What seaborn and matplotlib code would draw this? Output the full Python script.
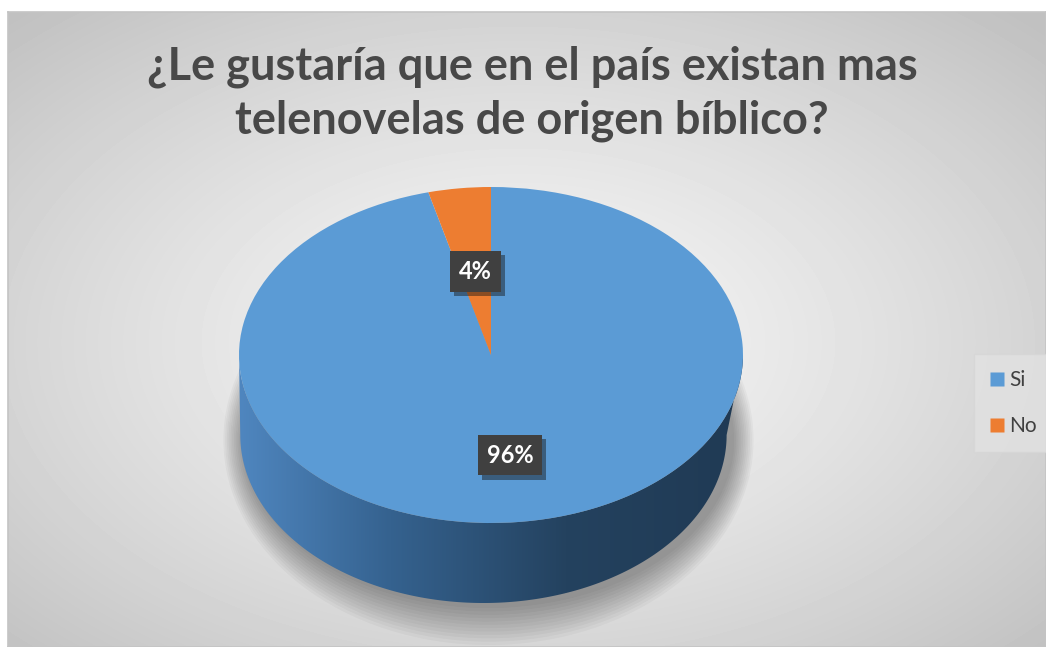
import matplotlib.pyplot as plt
import numpy as np
import seaborn as sns
from matplotlib.patches import Polygon, Ellipse
from matplotlib.lines import Line2D
from matplotlib.colors import LinearSegmentedColormap
import matplotlib.patheffects as pe

categories = ['Si', 'No']
values = [96, 4]
pct_labels = ['96%', '4%']
title_lines = ['¿Le gustaría que en el país existan mas', 'telenovelas de origen bíblico?']

sns.set_theme(style='white')
plt.rcParams['font.family'] = ['Lato', 'DejaVu Sans']
plt.rcParams['hatch.color'] = '#5a5a5a'
plt.rcParams['hatch.linewidth'] = 1.5
colors = sns.color_palette(['#5b9bd5', '#ed7d31'])

W, H = 1046, 647
fig = plt.figure(figsize=(W / 100, H / 100), dpi=100)
fig.patch.set_facecolor('white')

# chart area with radial grey gradient
bg = fig.add_axes([8 / W, 0, 1 - 8 / W, 1 - 12 / H])
gh, gw = H - 12, W - 8
yy, xx = np.mgrid[0:gh, 0:gw]
r = np.sqrt(((xx - 510) / (gw / 2)) ** 2 + ((yy - 330) / (gh / 2)) ** 2) / np.sqrt(2)
grad = 0.965 - 0.21 * np.clip(r, 0, 1) ** 1.3
bg.imshow(grad, cmap='gray', vmin=0, vmax=1, aspect='auto', interpolation='bilinear')
bg.set_xticks([])
bg.set_yticks([])
for s in bg.spines.values():
    s.set_color('#c4c4c4')
    s.set_linewidth(1.2)

# pie axes: ellipse with rx=252px, ry=168px, depth 80px
cx, cy, rx, ry, depth = 491, 355, 252, 168, 80
d = depth / ry
ax = fig.add_axes([(cx - rx) / W, 1 - (cy + ry + depth) / H, 2 * rx / W, (2 * ry + depth) / H])
ax.set_facecolor('none')

# soft shadow under the cylinder
for k in range(12):
    ax.add_patch(Ellipse((-0.01, -d - 0.03), 1.95 + 0.014 * k, 2.0 + 0.04 * k,
                         color='black', alpha=0.03, lw=0, zorder=0, clip_on=False))

# cylinder side (bottom rim slightly narrower, as seen in perspective)
t = np.linspace(np.pi, 2 * np.pi, 200)
top = np.column_stack([np.cos(t), np.sin(t)])
bot = np.column_stack([-0.03 + 0.965 * np.cos(t[::-1]), -d + np.sin(t[::-1])])
side = Polygon(np.vstack([top, bot]), closed=True, facecolor='none', edgecolor='none', zorder=1)
ax.add_patch(side)
side_cmap = LinearSegmentedColormap.from_list(
    'side', [(0, '#4f86bf'), (0.3, '#35628f'), (0.65, '#24425f'), (1, '#203a54')])
img = ax.imshow(np.linspace(0, 1, 256).reshape(1, -1), cmap=side_cmap, aspect='auto',
                extent=(-1, 1, -1 - d, 0), zorder=1)
img.set_clip_path(side)

wedges, _ = ax.pie(values, colors=colors, startangle=90, counterclock=False,
                   wedgeprops=dict(linewidth=0, zorder=2), radius=1)
ax.set_aspect('auto')
ax.set_xlim(-1, 1)
ax.set_ylim(-1 - d, 1)
ax.axis('off')

# data labels placed on the wedge bisectors
dists = [0.6, 0.5]
for w, lab, dist in zip(wedges, pct_labels, dists):
    ang = np.deg2rad((w.theta1 + w.theta2) / 2)
    txt = ax.text(dist * np.cos(ang), dist * np.sin(ang), lab, ha='center', va='center',
                  fontsize=17, fontweight='bold', color='white', zorder=5,
                  bbox=dict(boxstyle='square,pad=0.38', facecolor='#404040',
                            edgecolor='none', hatch='..'))
    txt.get_bbox_patch().set_path_effects(
        [pe.SimplePatchShadow(offset=(3, -3), alpha=0.45), pe.Normal()])

for line, base in zip(title_lines, [79, 134]):
    fig.text(532 / W, 1 - base / H, line, ha='center', va='baseline', fontsize=32.5,
             fontweight='bold', color='#484848')

handles = [Line2D([], [], marker='s', linestyle='none', markersize=10,
                  markerfacecolor=c, markeredgecolor='none') for c in colors]
leg = fig.legend(handles, categories, loc='center left', bbox_to_anchor=(974 / W, 1 - 403 / H),
                 frameon=True, fontsize=15, labelspacing=1.25, handletextpad=0.25,
                 handlelength=0.7, borderpad=0.75, borderaxespad=0, fancybox=False,
                 labelcolor='#404040')
leg.get_frame().set_facecolor('#e2e2e2')
leg.get_frame().set_edgecolor('#d6d6d6')

fig.savefig('out.png', dpi=100)
